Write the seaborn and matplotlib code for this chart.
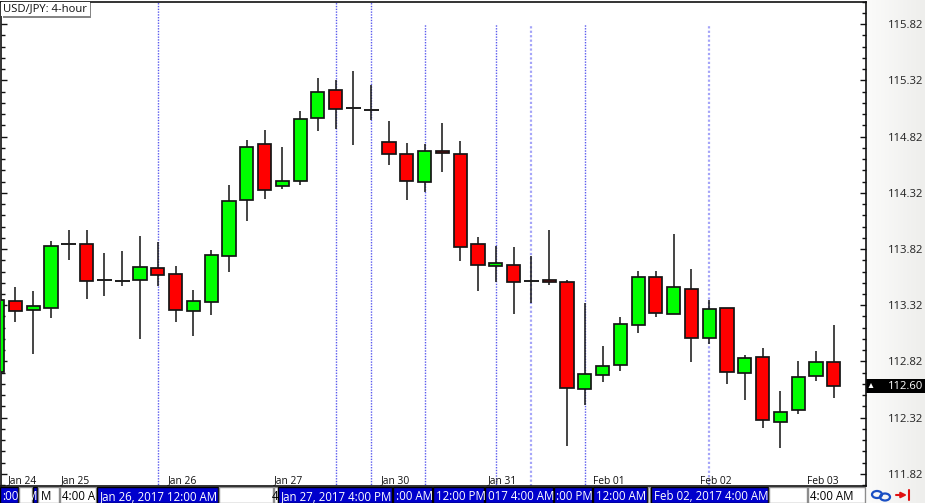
import numpy as np
import pandas as pd
import matplotlib
matplotlib.use("Agg")
import matplotlib.pyplot as plt
from matplotlib.patches import Rectangle, Ellipse, Polygon
import seaborn as sns

# USD/JPY 4-hour candles
opens = [112.727, 113.362, 113.279, 113.297, 113.865, 113.865, 113.547, 113.540,
         113.547, 113.651, 113.594, 113.273, 113.348, 113.758, 114.253, 114.758,
         114.381, 114.422, 114.987, 115.232, 115.072, 115.058, 114.775, 114.669,
         114.413, 114.695, 114.669, 113.861, 113.669, 113.678, 113.540, 113.547,
         113.531, 112.576, 112.698, 112.787, 113.143, 113.571, 113.238, 113.466,
         113.030, 113.297, 112.721, 112.861, 112.285, 112.389, 112.689, 112.814]
closes = [113.369, 113.273, 113.309, 113.849, 113.865, 113.540, 113.547, 113.540,
          113.660, 113.585, 113.282, 113.360, 113.763, 114.250, 114.728, 114.348,
          114.428, 114.978, 115.218, 115.067, 115.072, 115.058, 114.662, 114.422,
          114.693, 114.678, 113.838, 113.678, 113.695, 113.531, 113.540, 113.523,
          112.585, 112.707, 112.778, 113.152, 113.571, 113.247, 113.482, 113.030,
          113.288, 112.730, 112.852, 112.303, 112.374, 112.683, 112.814, 112.600]
highs = [113.369, 113.484, 113.451, 113.888, 113.992, 113.992, 113.787, 113.799,
         113.938, 113.882, 113.671, 113.458, 113.808, 114.393, 114.793, 114.882,
         114.728, 115.045, 115.343, 115.328, 115.401, 115.277, 114.962, 114.764,
         114.758, 114.942, 114.778, 113.927, 113.843, 113.838, 113.760, 113.992,
         113.544, 113.339, 112.959, 113.211, 113.629, 113.629, 113.954, 113.638,
         113.369, 113.297, 112.879, 112.944, 112.556, 112.823, 112.912, 113.146]
lows = [112.727, 113.173, 112.888, 113.208, 113.725, 113.377, 113.398, 113.487,
        113.021, 113.493, 113.173, 113.042, 113.229, 113.612, 114.072, 114.265,
        114.354, 114.386, 114.867, 114.889, 114.749, 114.971, 114.564, 114.259,
        114.324, 114.502, 113.713, 113.449, 113.531, 113.238, 113.339, 113.496,
        112.071, 112.431, 112.638, 112.736, 113.072, 113.211, 113.238, 112.816,
        112.979, 112.623, 112.478, 112.231, 112.048, 112.356, 112.647, 112.493]
first_candle = -1

# candle index of each day label
day_labels = ["Jan 24", "Jan 25", "Jan 26", "Jan 27", "Jan 30", "Jan 31", "Feb 01", "Feb 02", "Feb 03"]
day_pos = [0, 3, 9, 15, 21, 27, 33, 39, 45]

# vertical period separators (candle index)
vline_pos = [8, 18, 20, 23, 27, 29, 32, 39]
vline_top = [116.03, 116.03, 116.03, 115.82, 115.82, 115.82, 115.82, 115.82]
vline_wide = [False, False, False, False, False, True, False, True]

price_ticks = [111.82, 112.32, 112.82, 113.32, 113.82, 114.32, 114.82, 115.32, 115.82]
last_price = 112.60

# the time tabs under the chart: label, left px, right px, selected
tabs = [(":00", 0, 18, True), ("", 19, 32, False), ("M", 33, 37, True), ("M", 38, 59, False),
        ("4:00 A", 60, 96, False), ("Jan 26, 2017 12:00 AM", 97, 218, True),
        ("", 219, 273, False), ("4", 274, 278, False), ("Jan 27, 2017 4:00 PM", 278, 392, True),
        (":00 AM", 393, 432, True), ("12:00 PM", 433, 484, True), ("017 4:00 AM", 485, 553, True),
        (":00 PM", 554, 592, True), ("12:00 AM", 593, 647, True), ("", 648, 650, False),
        ("Feb 02, 2017 4:00 AM", 651, 768, True), ("", 769, 807, False), ("4:00 AM", 808, 865, False)]

UI_FONT = "Open Sans"
W, H = 925, 503
AX_L, AX_R, AX_T, AX_B = 0.5, 866, 1.5, 486

sns.set_style("white")
plt.rcParams["font.family"] = [UI_FONT, "DejaVu Sans"]

fig = plt.figure(figsize=(W / 100, H / 100), dpi=100, facecolor="white")

# everything around the plot, in pixel coordinates
chrome = fig.add_axes([0, 0, 1, 1], zorder=0)
chrome.axis("off")
grad = np.linspace(0, 1, 64).reshape(1, -1)
chrome.imshow(grad, extent=(867, W, H, 0), aspect="auto", cmap=matplotlib.colors.LinearSegmentedColormap.from_list(
    "panel", ["#fbfbfa", "#eeeeec"]), zorder=0)
chrome.set_xlim(0, W)
chrome.set_ylim(H, 0)

for label, left, right, selected in tabs:
    face = "#0000cc" if selected else "white"
    edge = "black" if selected else "#8c8c8c"
    box = Rectangle((left, 487), right - left, 16, facecolor=face, edgecolor=edge, lw=1.0, zorder=2)
    chrome.add_patch(box)
    if label:
        # the two slivers only show the end of their text
        sliver = right - left < 8
        t = chrome.text(right + 0.5 if sliver else left + 2.5, 496.5, label, color="white" if selected else "black",
                        fontsize=8.3, ha="right" if sliver else "left", va="center", zorder=3)
        t.set_clip_path(box)

# price tag
chrome.add_patch(Rectangle((866, 379), W - 866, 14, facecolor="black", edgecolor="none", zorder=2))
chrome.add_patch(Polygon([(868.5, 388), (873.5, 388), (871, 383)], facecolor="white", edgecolor="none", zorder=3))
chrome.text(888, 386.3, f"{last_price:.2f}", color="white", fontsize=8.1, va="center", ha="left", zorder=3)

# link and arrow icons
chrome.add_patch(Ellipse((877, 494.5), 10, 7, fill=False, edgecolor="#1a4fc4", lw=1.6, zorder=3))
chrome.add_patch(Ellipse((885, 497), 10, 7, fill=False, edgecolor="#1a4fc4", lw=1.6, zorder=3))
chrome.annotate("", xy=(907, 495), xytext=(896, 495), zorder=3,
                arrowprops=dict(arrowstyle="-|>", color="#e01010", lw=1.5, mutation_scale=8, shrinkA=0, shrinkB=0))
chrome.plot([908.5, 908.5], [490, 500], color="#e01010", lw=1.5, zorder=3)

# main chart
ax = fig.add_axes([AX_L / W, 1 - AX_B / H, (AX_R - AX_L) / W, (AX_B - AX_T) / H], zorder=1)
ax.set_facecolor("white")

df = pd.DataFrame({"pos": np.arange(len(opens)) + first_candle, "open": opens, "close": closes,
                   "high": highs, "low": lows})
df["body"] = (df["close"] - df["open"]).abs()
df["base"] = df[["open", "close"]].min(axis=1)

for pos, top, wide in zip(vline_pos, vline_top, vline_wide):
    ax.vlines(pos, 111.5, top, colors="#a4a4f8" if wide else "#5a5aee",
              linewidth=1.6 if wide else 1.0, linestyles=(0, (1, 1)), zorder=1)

ax.vlines(df["pos"], df["low"], df["high"], colors="#1c1c1c", linewidth=1.15, zorder=2)

up = df[df["close"] > df["open"]]
down = df[df["close"] < df["open"]]
flat = df[df["close"] == df["open"]]
for part, colour in [(up, "#00ff00"), (down, "#ff0000")]:
    sns.barplot(data=part, x="pos", y="body", bottom=part["base"].to_numpy(), native_scale=True,
                color=colour, saturation=1, edgecolor="#141414", linewidth=1.25, width=0.74,
                errorbar=None, zorder=3, ax=ax)
ax.hlines(flat["open"], flat["pos"] - 0.42, flat["pos"] + 0.42, colors="#1c1c1c", linewidth=1.4, zorder=3)

ax.set_xlim(-0.843, 47.81)
ax.set_ylim(111.712, 116.022)
ax.set_xlabel("")
ax.set_ylabel("")
ax.set_xticks([])

ax.yaxis.tick_right()
ax.set_yticks(price_ticks)
ax.set_yticklabels([f"{p:.2f}" for p in price_ticks])
ax.set_yticks(np.arange(111.72, 116.03, 0.1), minor=True)
ax.tick_params(axis="y", which="major", direction="in", left=True, right=True, length=4.6, width=1.0,
               color="#111111", pad=15.8, labelsize=8.1, labelcolor="#222222")
ax.tick_params(axis="y", which="minor", direction="in", left=True, right=True, length=2.6, width=1.0,
               color="#111111")
for spine in ax.spines.values():
    spine.set_visible(True)
    spine.set_color("#111111")
    spine.set_linewidth(1.2)

for name, pos in zip(day_labels, day_pos):
    ax.annotate(name, xy=(pos, 0), xycoords=ax.get_xaxis_transform(), xytext=(6.5, -0.5),
                textcoords="offset pixels", ha="center", va="bottom", fontsize=7.4, color="#111111", zorder=4)


def px_box(x0, y0, x1, y1, colour, z):
    # rectangle given in picture pixels, drawn on top of the chart
    return Rectangle((x0, y0), x1 - x0, y1 - y0, transform=chrome.transData, facecolor=colour,
                     edgecolor="none", zorder=z)


# chart caption box with its shadow
ax.add_patch(px_box(3, 3, 91, 17.5, "#858585", 5))
ax.add_patch(px_box(1, 1.5, 89.5, 15.5, "white", 5.5))
ax.text(2.5 / 865.5, 1 - 7.5 / 484.5, "USD/JPY: 4-hour", transform=ax.transAxes, fontsize=8.1, color="#111111",
        va="center", ha="left", zorder=6)

fig.savefig("out.png", dpi=100, facecolor=fig.get_facecolor())
